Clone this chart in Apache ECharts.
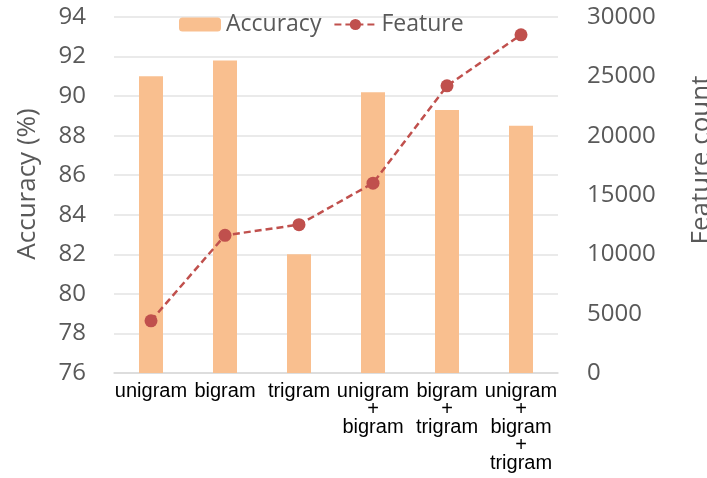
<!DOCTYPE html>
<html>
<head>
<meta charset="utf-8">
<script src="https://cdn.jsdelivr.net/npm/echarts@6/dist/echarts.min.js"></script>
<style>
  html, body { margin: 0; padding: 0; background: #fff; }
  #chart { width: 707px; height: 478px; }
</style>
</head>
<body>
<div id="chart"></div>
<script>
const categories = [
  "unigram",
  "bigram",
  "trigram",
  "unigram\n+\nbigram",
  "bigram\n+\ntrigram",
  "unigram\n+\nbigram\n+\ntrigram",
];
const accuracy = [91.0, 91.8, 82.0, 90.2, 89.3, 88.5];
const featureCount = [4400, 11600, 12500, 16000, 24200, 28500];

const gray = "#595959";
const font = "Open Sans";

let myChart = echarts.init(document.getElementById("chart"));
let option = {
  animation: false,
  textStyle: { fontFamily: font },
  legend: {
    left: 174,
    top: 8,
    itemWidth: 42,
    itemHeight: 14,
    itemGap: 12,
    textStyle: { fontSize: 23, color: gray, fontFamily: font },
    data: ["Accuracy", "Feature"],
  },
  grid: {
    left: 114,
    right: 149,
    top: 17,
    bottom: 105,
  },
  xAxis: {
    type: "category",
    data: categories,
    axisTick: { show: false },
    axisLine: { lineStyle: { color: "#d9d9d9", width: 1.5 } },
    axisLabel: {
      interval: 0,
      margin: 9,
      color: "#000",
      fontFamily: "Liberation Sans",
      fontSize: 20,
      lineHeight: 18,
    },
  },
  yAxis: [
    {
      type: "value",
      min: 76,
      max: 94,
      interval: 2,
      axisLine: { show: false },
      axisTick: { show: false },
      axisLabel: { margin: 28, color: gray, fontSize: 24, fontFamily: font },
      splitLine: { lineStyle: { color: "#e3e3e3", width: 1.5 } },
    },
    {
      type: "value",
      min: 0,
      max: 30000,
      interval: 5000,
      axisLine: { show: false },
      axisTick: { show: false },
      axisLabel: {
        margin: 29,
        color: gray,
        fontSize: 24,
        fontFamily: font,
        formatter: (v) => String(v),
      },
      splitLine: { show: false },
    },
  ],
  graphic: [
    {
      type: "text",
      x: 28,
      y: 184,
      rotation: Math.PI / 2,
      style: {
        text: "Accuracy (%)",
        fill: gray,
        fontSize: 26,
        fontFamily: font,
        align: "center",
        verticalAlign: "middle",
      },
    },
    {
      type: "text",
      x: 702,
      y: 160,
      rotation: Math.PI / 2,
      style: {
        text: "Feature count",
        fill: gray,
        fontSize: 26,
        fontFamily: font,
        align: "center",
        verticalAlign: "middle",
      },
    },
  ],
  series: [
    {
      name: "Accuracy",
      type: "bar",
      yAxisIndex: 0,
      barWidth: 24,
      itemStyle: { color: "#F9BF8F" },
      data: accuracy,
    },
    {
      name: "Feature",
      type: "line",
      yAxisIndex: 1,
      symbol: "circle",
      symbolSize: 13,
      itemStyle: { color: "#C0504D" },
      lineStyle: { color: "#C0504D", width: 2.5, type: [7, 4] },
      data: featureCount,
    },
  ],
};
myChart.setOption(option);
</script>
</body>
</html>
